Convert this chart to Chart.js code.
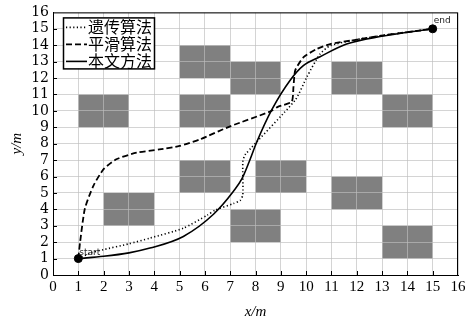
<!DOCTYPE html>
<html>
<head>
<meta charset="utf-8">
<script src="https://cdn.jsdelivr.net/npm/chart.js@4.4.1/dist/chart.umd.min.js"></script>
<style>
  html, body { margin: 0; padding: 0; background: #fff; }
  #wrap { width: 471px; height: 321px; }
</style>
</head>
<body>
<div id="wrap"><canvas id="path-chart"></canvas></div>
<script>
// Obstacles: lower-left corners, each block is 2 x 2
const obstacleX = [2, 1, 5, 5, 5, 7, 8, 7, 11, 13, 11, 13];
const obstacleY = [3, 9, 12, 9, 5, 2, 5, 11, 11, 9, 4, 1];
const obstacleSize = 2;

// 遗传算法 (dotted)
const gaX = [1, 1.5, 2, 3, 3.83, 5.15, 6.1, 6.4, 7.13, 7.4, 7.5, 7.5, 7.6, 9.57, 10.03, 10.55, 10.95, 12, 13.5, 15];
const gaY = [1, 1.35, 1.55, 1.9, 2.25, 2.85, 3.65, 3.95, 4.35, 4.55, 4.9, 6.9, 7.35, 10.66, 12.07, 13.47, 13.97, 14.35, 14.7, 15];

// 平滑算法 (dashed)
const smoothX = [1, 1.07, 1.26, 1.6, 2.0, 2.5, 3.3, 4.2, 5.0, 5.8, 7.0, 8.58, 8.9, 9.43, 9.5, 9.57, 9.9, 10.42, 10.95, 12.13, 12.9, 15];
const smoothY = [1, 2.0, 4.05, 5.45, 6.45, 7.05, 7.45, 7.65, 7.86, 8.26, 9.06, 9.96, 10.26, 10.56, 11.46, 12.47, 13.27, 13.77, 14.07, 14.37, 14.57, 15];

// 本文方法 (solid)
const ourX = [1, 2, 3, 3.83, 5.15, 6.34, 7.13, 7.46, 7.75, 8.05, 8.64, 9.37, 9.9, 10.55, 11.6, 12.92, 15];
const ourY = [1, 1.14, 1.35, 1.64, 2.35, 3.7, 5.1, 5.85, 6.9, 8.1, 10.06, 11.87, 12.77, 13.3, 14.07, 14.53, 15];

const seriesLabels = ['遗传算法', '平滑算法', '本文方法'];
const endpointsX = [1, 15];
const endpointsY = [1, 15];
const endpointNames = ['start', 'end'];

const axisMin = 0;
const axisMax = 16;

function toPoints(xs, ys) {
    return xs.map((x, i) => ({ x: x, y: ys[i] }));
}

// Gray blocks, drawn before the grid so grid lines show on top
const obstaclePlugin = {
    id: 'obstacles',
    beforeDraw(chart) {
        const { ctx, scales: { x, y } } = chart;
        ctx.save();
        ctx.fillStyle = '#808080';
        obstacleX.forEach((ox, i) => {
            const oy = obstacleY[i];
            const x0 = x.getPixelForValue(ox);
            const x1 = x.getPixelForValue(ox + obstacleSize);
            const y0 = y.getPixelForValue(oy + obstacleSize);
            const y1 = y.getPixelForValue(oy);
            ctx.fillRect(x0, y0, x1 - x0, y1 - y0);
        });
        ctx.restore();
    }
};

// Frame, inward ticks, start/end text and the legend box
const framePlugin = {
    id: 'frame',
    afterDraw(chart) {
        const { ctx, chartArea: a, scales: { x, y } } = chart;
        ctx.save();
        ctx.strokeStyle = '#000';
        ctx.lineWidth = 1;
        ctx.strokeRect(a.left + 0.5, a.top + 0.5, a.right - a.left - 1, a.bottom - a.top);

        ctx.beginPath();
        for (let v = axisMin + 1; v < axisMax; v++) {
            const px = Math.round(x.getPixelForValue(v)) + 0.5;
            ctx.moveTo(px, a.bottom);
            ctx.lineTo(px, a.bottom - 4);
            const py = Math.round(y.getPixelForValue(v)) + 0.5;
            ctx.moveTo(a.left, py);
            ctx.lineTo(a.left + 4, py);
        }
        ctx.stroke();

        // endpoint names
        ctx.fillStyle = '#222';
        ctx.font = '9px "DejaVu Sans"';
        ctx.textBaseline = 'alphabetic';
        ctx.textAlign = 'left';
        ctx.fillText(endpointNames[0], x.getPixelForValue(endpointsX[0]) + 1, y.getPixelForValue(endpointsY[0]) - 4);
        ctx.fillText(endpointNames[1], x.getPixelForValue(endpointsX[1]) + 1, y.getPixelForValue(endpointsY[1]) - 6);

        // legend
        const lx = a.left + 10, ly = a.top + 5, lw = 91, lh = 51;
        ctx.fillStyle = '#fff';
        ctx.fillRect(lx, ly, lw, lh);
        ctx.strokeStyle = '#000';
        ctx.lineWidth = 1.5;
        ctx.strokeRect(lx + 0.5, ly + 0.5, lw, lh);
        ctx.font = '16px "Noto Sans CJK SC"';
        ctx.textBaseline = 'middle';
        for (let i = 0; i < 3; i++) {
            const ds = chart.data.datasets[i];
            const rowY = ly + 10 + i * 17;
            ctx.beginPath();
            ctx.setLineDash(ds.borderDash || []);
            ctx.lineWidth = ds.borderWidth;
            ctx.strokeStyle = '#000';
            ctx.moveTo(lx + 3, rowY);
            ctx.lineTo(lx + 24, rowY);
            ctx.stroke();
            ctx.setLineDash([]);
            ctx.fillStyle = '#000';
            ctx.fillText(ds.label, lx + 25, rowY);
        }
        ctx.restore();
    }
};

const ctx = document.getElementById('path-chart').getContext('2d');
new Chart(ctx, {
    type: 'scatter',
    data: {
        datasets: [
            {
                label: seriesLabels[0],
                data: toPoints(gaX, gaY),
                showLine: true,
                borderColor: '#000',
                borderWidth: 1.6,
                borderDash: [1.2, 2.4],
                pointRadius: 0,
                tension: 0.2
            },
            {
                label: seriesLabels[1],
                data: toPoints(smoothX, smoothY),
                showLine: true,
                borderColor: '#000',
                borderWidth: 1.8,
                borderDash: [6, 3],
                pointRadius: 0,
                tension: 0.2
            },
            {
                label: seriesLabels[2],
                data: toPoints(ourX, ourY),
                showLine: true,
                borderColor: '#000',
                borderWidth: 1.6,
                pointRadius: 0,
                cubicInterpolationMode: 'monotone'
            },
            {
                label: 'endpoints',
                data: toPoints(endpointsX, endpointsY),
                showLine: false,
                pointRadius: 4,
                pointBackgroundColor: '#000',
                pointBorderColor: '#000'
            }
        ]
    },
    options: {
        responsive: true,
        maintainAspectRatio: false,
        animation: false,
        layout: { padding: { left: 8, right: 13, top: 1, bottom: 0 } },
        plugins: {
            legend: { display: false },
            tooltip: { enabled: false }
        },
        scales: {
            x: {
                type: 'linear',
                min: axisMin,
                max: axisMax,
                ticks: {
                    stepSize: 1,
                    autoSkip: false,
                    color: '#000',
                    padding: 3,
                    font: { family: '"Liberation Serif"', size: 15 }
                },
                grid: { color: 'rgba(189,189,189,0.66)', drawTicks: false },
                border: { display: true, color: '#000' },
                title: {
                    display: true,
                    text: 'x/m',
                    color: '#000',
                    padding: { top: 2, bottom: 0 },
                    font: { family: '"Liberation Serif"', size: 15, style: 'italic' }
                },
                afterFit(scale) { scale.height = 46; }
            },
            y: {
                type: 'linear',
                min: axisMin,
                max: axisMax,
                ticks: {
                    stepSize: 1,
                    autoSkip: false,
                    color: '#000',
                    padding: 4,
                    font: { family: '"DejaVu Serif"', size: 14 }
                },
                grid: { color: 'rgba(189,189,189,0.66)', drawTicks: false },
                border: { display: true, color: '#000' },
                title: {
                    display: true,
                    text: 'y/m',
                    color: '#000',
                    padding: { top: 0, bottom: 6 },
                    font: { family: '"Liberation Serif"', size: 15, style: 'italic' }
                },
                afterFit(scale) { scale.width = 45; }
            }
        }
    },
    plugins: [obstaclePlugin, framePlugin]
});
</script>
</body>
</html>
